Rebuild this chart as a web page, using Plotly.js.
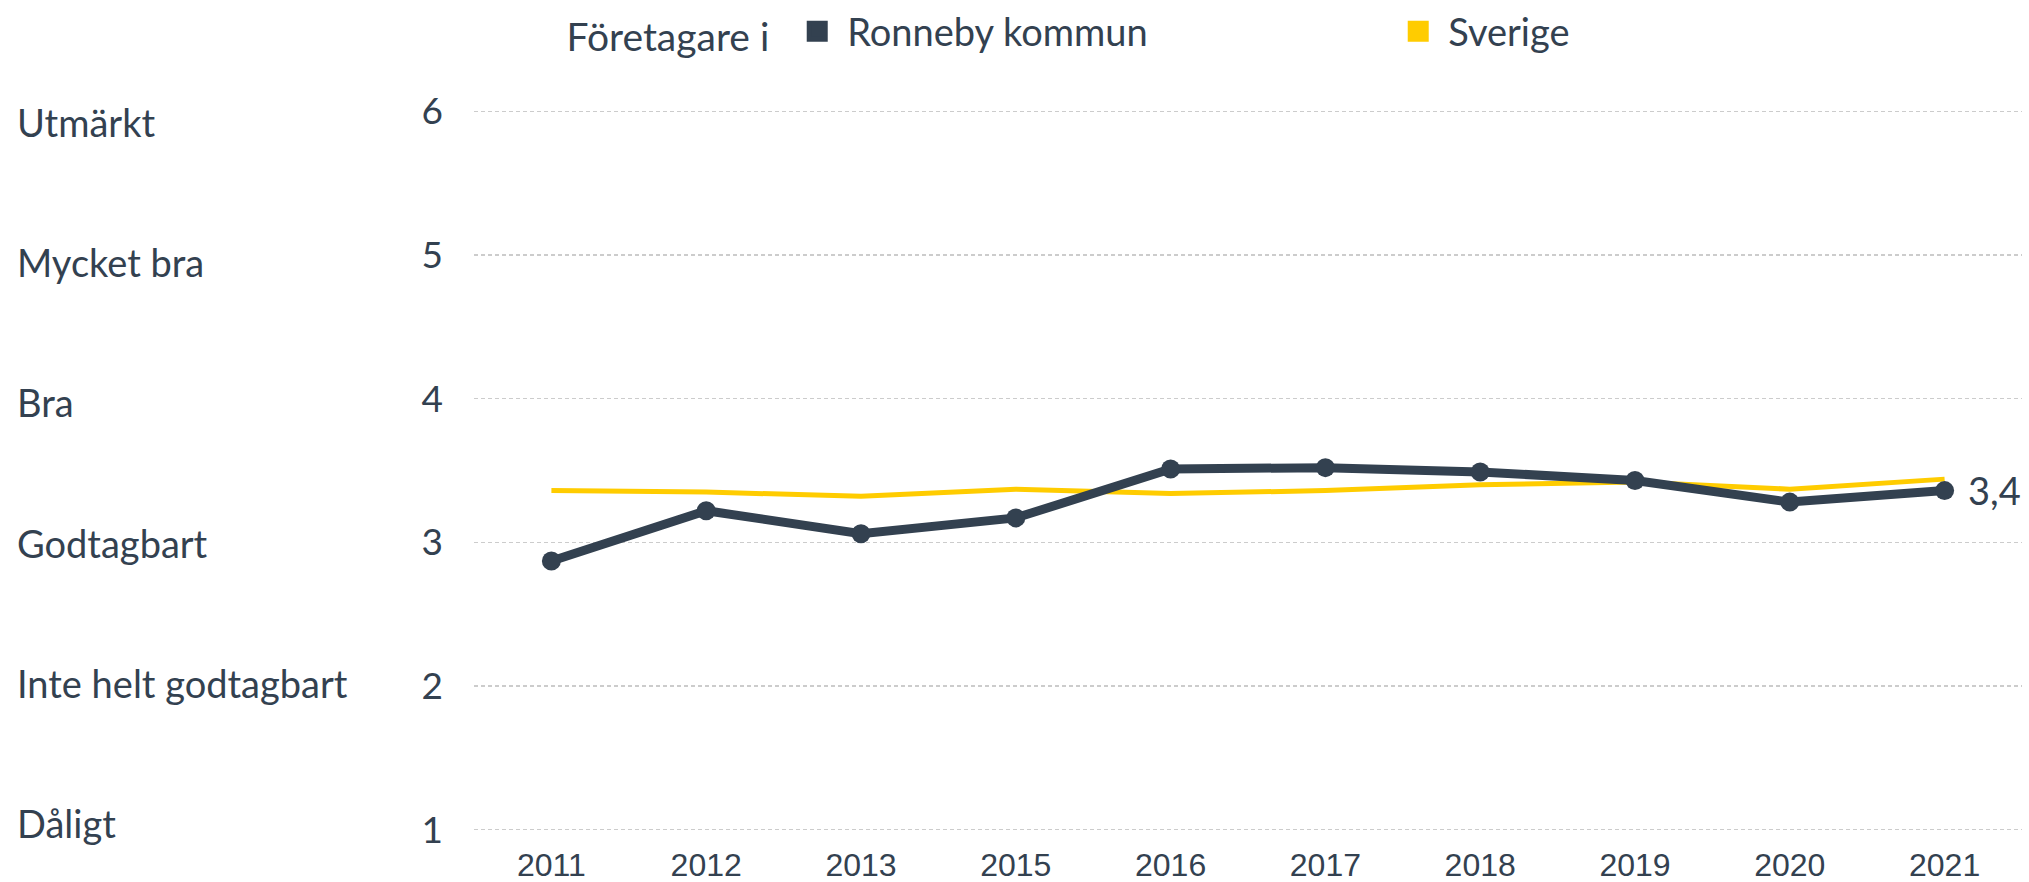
<!DOCTYPE html>
<html>
<head>
<meta charset="utf-8">
<script src="https://cdn.plot.ly/plotly-3.0.1.min.js"></script>
<style>
html,body{margin:0;padding:0;background:#fff;}
#chart{width:2029px;height:882px;}
</style>
</head>
<body>
<div id="chart"></div>
<script>
var years = ['2011','2012','2013','2015','2016','2017','2018','2019','2020','2021'];
var ronneby = [2.87, 3.22, 3.06, 3.17, 3.51, 3.52, 3.49, 3.43, 3.28, 3.36];
var sverige = [3.36, 3.35, 3.32, 3.37, 3.34, 3.36, 3.40, 3.42, 3.37, 3.44];
var scaleValues = [6, 5, 4, 3, 2, 1];
var scaleLabels = ['Utmärkt', 'Mycket bra', 'Bra', 'Godtagbart', 'Inte helt godtagbart', 'Dåligt'];
var seriesNames = ['Ronneby kommun', 'Sverige'];
var legendTitle = 'Företagare i';

var dark = '#334150';
var yellow = '#FFCC00';
var textFont = 'Lato, "Noto Sans", sans-serif';

var traces = [
  {
    x: years, y: sverige, type: 'scatter', mode: 'lines',
    line: {color: yellow, width: 5}, showlegend: false, hoverinfo: 'skip'
  },
  {
    x: years, y: ronneby, type: 'scatter', mode: 'lines+markers',
    line: {color: dark, width: 9}, marker: {color: dark, size: 19},
    showlegend: false, hoverinfo: 'skip'
  },
  {
    x: [null], y: [null], type: 'scatter', mode: 'markers', name: seriesNames[0],
    marker: {symbol: 'square', color: dark, size: 16, line: {color: dark, width: 5}}
  },
  {
    x: [null], y: [null], type: 'scatter', mode: 'markers', name: seriesNames[1],
    marker: {symbol: 'square', color: yellow, size: 16, line: {color: yellow, width: 5}}
  }
];

var annotations = scaleLabels.map(function (lab, i) {
  return {
    xref: 'paper', yref: 'y', x: -0.2963, y: scaleValues[i],
    yshift: -(2 + (2.5 - i) * 3.6),
    xanchor: 'left', yanchor: 'middle', text: lab, showarrow: false,
    font: {family: textFont, size: 38, color: dark}
  };
});
var lastIdx = ronneby.length - 1;
annotations.push({
  xref: 'x', yref: 'y', x: lastIdx, y: ronneby[lastIdx],
  xanchor: 'left', yanchor: 'middle', xshift: 21, yshift: 1,
  text: ronneby[lastIdx].toFixed(1).replace('.', ','), showarrow: false,
  font: {family: textFont, size: 38, color: dark}
});

var layout = {
  width: 2029, height: 882,
  paper_bgcolor: '#fff', plot_bgcolor: '#fff',
  margin: {l: 474, r: 7, t: 110, b: 51, pad: 0},
  showlegend: true,
  legend: {
    orientation: 'h', xref: 'paper', yref: 'container',
    x: 0.0585, xanchor: 'left', y: 1.0, yanchor: 'top',
    title: {text: legendTitle + '&nbsp;', side: 'left', font: {family: textFont, size: 39, color: dark}},
    font: {family: textFont, size: 38, color: dark},
    entrywidth: 536, entrywidthmode: 'pixels', itemwidth: 50,
    itemsizing: 'trace', bgcolor: 'rgba(0,0,0,0)'
  },
  xaxis: {
    type: 'category', range: [-0.5, 9.5],
    showgrid: false, zeroline: false, showline: false, ticks: '',
    tickfont: {family: '"Liberation Sans", Arial, sans-serif', size: 32, color: dark},
    ticklabelstandoff: 12, fixedrange: true
  },
  yaxis: {
    range: [0.99, 6.01], tickvals: scaleValues, ticktext: scaleValues.map(String),
    showgrid: true, gridcolor: '#cccccc', gridwidth: 1.5, griddash: '4px,3px',
    zeroline: false, showline: false, ticks: '',
    tickfont: {family: textFont, size: 37, color: dark},
    ticklabelstandoff: 30, fixedrange: true
  },
  annotations: annotations
};

Plotly.newPlot('chart', traces, layout, {displayModeBar: false, staticPlot: true});
</script>
</body>
</html>
